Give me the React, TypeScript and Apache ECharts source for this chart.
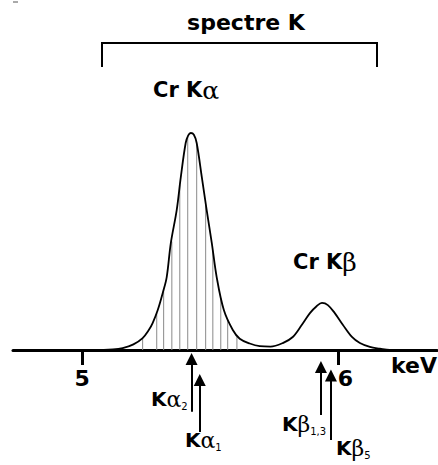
import React, { useEffect, useRef } from 'react';
import * as echarts from 'echarts';

// Spectrum (energy in keV, relative intensity; Cr Kα peak = 100)
const spectrum: [number, number][] = [
  [4.73, 0], [5.05, 0], [5.12, 0.3], [5.158, 0.9], [5.20, 2.6], [5.236, 5.5], [5.26, 9.2], [5.275, 12.4],
  [5.295, 18.4], [5.315, 26.5], [5.330, 33.6], [5.346, 49.3], [5.369, 64.5],
  [5.385, 79.7], [5.404, 95.4], [5.414, 98.9], [5.424, 100], [5.436, 99.2],
  [5.447, 95.4], [5.467, 79.7], [5.486, 64.5], [5.506, 49.3], [5.525, 33.6],
  [5.553, 18.4], [5.588, 9.2], [5.615, 5.2], [5.654, 3.0], [5.693, 1.8],
  [5.735, 1.6], [5.783, 3.2], [5.822, 6.0], [5.857, 11.5], [5.889, 17.0],
  [5.916, 20.3], [5.936, 21.7], [5.959, 20.7], [5.986, 17.0], [6.018, 11.5],
  [6.053, 6.0], [6.084, 3.2], [6.123, 1.4], [6.162, 0.6], [6.20, 0], [6.385, 0]
];

// Vertical hatch lines under the Kα peak (energy, height)
const hatchLines: [number, number][] = [
  [5.236, 5.5], [5.291, 17], [5.318, 28], [5.350, 50], [5.381, 76], [5.412, 98],
  [5.447, 95], [5.482, 67], [5.510, 46], [5.541, 24], [5.568, 14], [5.604, 6]
];

// Emission line markers: energy, arrow tip and tail (in intensity units, below baseline)
const arrowNames = ['Kα2', 'Kα1', 'Kβ1,3', 'Kβ5'];
const arrowEnergy = [5.427, 5.459, 5.932, 5.971];
const arrowTip = [-4.1, -13.8, -7.8, -11.8];
const arrowTail = [-28.4, -37.8, -30.0, -41.5];

const tickValues = [5, 6];
const axisName = 'keV';
const title = 'spectre K';
const peakLabels = ['Cr Kα', 'Cr Kβ'];

const BOLD = 'DejaVu Sans';
const GREEK = 'DejaVu Serif';

function richLabel(main: string, greek: string, sub: string) {
  return `{k|${main}}{g|${greek}}{s|${sub}}`;
}

export default function App() {
  const ref = useRef<HTMLDivElement>(null);
  useEffect(() => {
    if (!ref.current) return;
    const chart = echarts.init(ref.current, undefined, { renderer: 'svg' });

    const subRich = {
      k: { fontFamily: BOLD, fontWeight: 'bold', fontSize: 20, lineHeight: 24, color: '#000' },
      g: { fontFamily: GREEK, fontSize: 22, lineHeight: 24, color: '#000' },
      s: { fontFamily: BOLD, fontSize: 10, lineHeight: 24, verticalAlign: 'bottom', color: '#000' }
    };
    const peakRich = {
      k: { fontFamily: BOLD, fontWeight: 'bold', fontSize: 21, lineHeight: 28, color: '#000' },
      g: { fontFamily: GREEK, fontSize: 25, lineHeight: 28, color: '#000' }
    };

    const labelPos: [number, number][] = [[151, 399], [185, 440], [282, 424], [336, 448]];

    chart.setOption({
      animation: false,
      backgroundColor: '#fff',
      grid: { left: 13, right: 1, top: 133, bottom: 115, outerBoundsMode: 'none', containLabel: false },
      xAxis: {
        type: 'value',
        min: 4.73,
        max: 6.385,
        splitLine: { show: false },
        axisLine: { onZero: false, lineStyle: { color: '#000', width: 3 } },
        axisTick: { customValues: tickValues, length: 15, inside: false, lineStyle: { color: '#000', width: 3 } },
        axisLabel: {
          customValues: tickValues,
          margin: 17,
          formatter: (v: number) => (v === 6 ? `{b|${v}}` : `{a|${v}}`),
          rich: {
            a: { fontFamily: BOLD, fontWeight: 'bold', fontSize: 22, color: '#000' },
            b: { fontFamily: BOLD, fontWeight: 'bold', fontSize: 22, color: '#000', padding: [0, 0, 0, 14] }
          }
        },
        name: axisName,
        nameLocation: 'end',
        nameGap: 0,
        nameTextStyle: {
          fontFamily: BOLD, fontWeight: 'bold', fontSize: 22, color: '#000',
          align: 'right', verticalAlign: 'top', padding: [4, 0, 0, 0]
        }
      },
      yAxis: { type: 'value', min: 0, max: 100, show: false, splitLine: { show: false } },
      series: [
        {
          type: 'bar',
          data: hatchLines,
          barWidth: 1,
          itemStyle: { color: '#8a8a8a' },
          silent: true,
          z: 1
        },
        {
          type: 'line',
          data: spectrum,
          smooth: 0.35,
          symbol: 'none',
          lineStyle: { color: '#000', width: 1.8 },
          z: 3
        },
        {
          type: 'lines',
          coordinateSystem: 'cartesian2d',
          clip: false,
          symbol: ['none', 'triangle'],
          symbolSize: 12,
          lineStyle: { color: '#000', width: 2, opacity: 1 },
          data: arrowNames.map((n, i) => ({
            name: n,
            coords: [[arrowEnergy[i], arrowTail[i]], [arrowEnergy[i], arrowTip[i]]]
          })),
          z: 4
        }
      ],
      graphic: [
        { type: 'line', shape: { x1: 13, y1: 2, x2: 18, y2: 2 }, style: { stroke: '#555', lineWidth: 1 } },
        {
          type: 'text', x: 246, y: 22,
          style: { text: title, fontFamily: BOLD, fontWeight: 'bold', fontSize: 22, fill: '#000', align: 'center', verticalAlign: 'middle' }
        },
        {
          type: 'polyline',
          shape: { points: [[102, 67], [102, 43], [377, 43], [377, 67]] },
          style: { stroke: '#000', lineWidth: 2, fill: null }
        },
        {
          type: 'text', x: 153, y: 90,
          style: { text: `{k|${peakLabels[0].slice(0, 4)}}{g|${peakLabels[0].slice(4)}}`, rich: peakRich, align: 'left', verticalAlign: 'middle' }
        },
        {
          type: 'text', x: 293, y: 262,
          style: { text: `{k|${peakLabels[1].slice(0, 4)}}{g|${peakLabels[1].slice(4)}}`, rich: peakRich, align: 'left', verticalAlign: 'middle' }
        },
        ...arrowNames.map((n, i) => ({
          type: 'text',
          x: labelPos[i][0],
          y: labelPos[i][1],
          style: {
            text: richLabel(n.slice(0, 1), n.slice(1, 2), n.slice(2)),
            rich: subRich,
            align: 'left',
            verticalAlign: 'middle'
          }
        }))
      ]
    });
    return () => chart.dispose();
  }, []);
  return (
    <div
      ref={ref}
      style={{ position: 'fixed', left: 0, top: 0, width: 438, height: 465, background: '#fff' }}
    />
  );
}
